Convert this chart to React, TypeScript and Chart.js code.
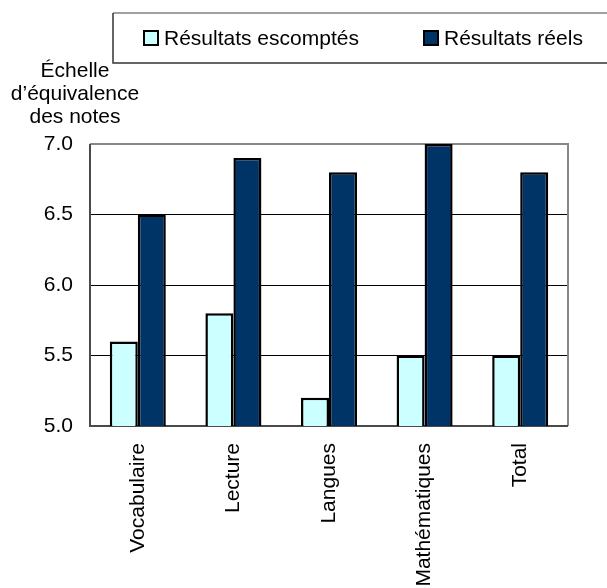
import React, { useEffect, useRef } from "react";
import { Chart, registerables } from "chart.js";

Chart.register(...registerables);

const categories = ["Vocabulaire", "Lecture", "Langues", "Mathématiques", "Total"];
const expected = [5.6, 5.8, 5.2, 5.5, 5.5];
const actual = [6.5, 6.9, 6.8, 7.0, 6.8];
const seriesNames = ["Résultats escomptés", "Résultats réels"];
const seriesColors = ["#CCFFFF", "#003366"];
const yTitleLines = ["Échelle", "d’équivalence", "des notes"];
const yMin = 5.0;
const yMax = 7.0;
const yStep = 0.5;

const FONT = "Arial, 'Liberation Sans', sans-serif";

export default function App() {
  const ref = useRef<HTMLCanvasElement | null>(null);

  useEffect(() => {
    const canvas = ref.current;
    if (!canvas) return;

    const framePlugin = {
      id: "frame",
      beforeDatasetsDraw(chart: any) {
        const { ctx, chartArea: a } = chart;
        ctx.save();
        ctx.lineWidth = 2;
        ctx.strokeStyle = "#888888";
        ctx.beginPath();
        ctx.moveTo(a.left, a.top);
        ctx.lineTo(a.right, a.top);
        ctx.lineTo(a.right, a.bottom);
        ctx.stroke();
        ctx.strokeStyle = "#4a4a4a";
        ctx.beginPath();
        ctx.moveTo(a.left, a.top);
        ctx.lineTo(a.left, a.bottom);
        ctx.lineTo(a.right, a.bottom);
        ctx.stroke();
        ctx.restore();
      },
    };

    const extrasPlugin = {
      id: "extras",
      afterDraw(chart: any) {
        const { ctx } = chart;
        ctx.save();
        // Legend box
        const bx = 113, by = 13, bw = 520, bh = 50;
        ctx.lineWidth = 1.5;
        ctx.strokeStyle = "#808080";
        ctx.beginPath();
        ctx.moveTo(bx, by);
        ctx.lineTo(bx + bw, by);
        ctx.stroke();
        ctx.strokeStyle = "#333333";
        ctx.beginPath();
        ctx.moveTo(bx, by);
        ctx.lineTo(bx, by + bh);
        ctx.lineTo(bx + bw, by + bh);
        ctx.stroke();

        const items = chart.data.datasets;
        const xs = [144, 424];
        ctx.font = `21px ${FONT}`;
        ctx.textBaseline = "middle";
        ctx.textAlign = "left";
        items.forEach((ds: any, i: number) => {
          const x = xs[i];
          ctx.fillStyle = ds.backgroundColor;
          ctx.fillRect(x, 31, 14, 14);
          ctx.lineWidth = 2;
          ctx.strokeStyle = "#000";
          ctx.strokeRect(x, 31, 14, 14);
          ctx.fillStyle = "#000";
          ctx.fillText(ds.label, x + 20, 39);
        });

        // Y axis title
        ctx.textAlign = "center";
        ctx.textBaseline = "alphabetic";
        yTitleLines.forEach((line, i) => {
          ctx.fillText(line, 75, 77 + i * 23);
        });
        ctx.restore();
      },
    };

    const chart = new Chart(canvas, {
      type: "bar",
      data: {
        labels: categories,
        datasets: [
          {
            label: seriesNames[0],
            data: expected,
            backgroundColor: seriesColors[0],
            borderColor: "#000000",
            borderWidth: 2.5,
            borderSkipped: false,
            categoryPercentage: 0.586,
            barPercentage: 1.0,
          },
          {
            label: seriesNames[1],
            data: actual,
            backgroundColor: seriesColors[1],
            borderColor: "#000000",
            borderWidth: 2.5,
            borderSkipped: false,
            categoryPercentage: 0.586,
            barPercentage: 1.0,
          },
        ],
      },
      options: {
        responsive: false,
        animation: false,
        layout: { padding: { top: 144, right: 39, left: 0, bottom: 0 } },
        plugins: {
          legend: { display: false },
          tooltip: { enabled: false },
          title: { display: false },
        },
        scales: {
          x: {
            grid: { display: false, drawTicks: false },
            border: { display: false },
            ticks: {
              autoSkip: false,
              minRotation: 90,
              maxRotation: 90,
              padding: 17,
              color: "#000",
              font: { family: FONT, size: 21 },
            },
            afterFit(scale: any) {
              scale.height = 162;
            },
          },
          y: {
            min: yMin,
            max: yMax,
            border: { display: false },
            grid: {
              drawTicks: false,
              lineWidth: 1,
              color: (c: any) =>
                c.tick && (c.tick.value === yMin || c.tick.value === yMax)
                  ? "rgba(0,0,0,0)"
                  : "#000000",
            },
            ticks: {
              stepSize: yStep,
              padding: 17,
              color: "#000",
              font: { family: FONT, size: 21 },
              callback: (v: any) => Number(v).toFixed(1),
            },
            afterFit(scale: any) {
              scale.width = 90;
            },
          },
        },
      },
      plugins: [framePlugin, extrasPlugin],
    });

    return () => chart.destroy();
  }, []);

  return (
    <div style={{ position: "fixed", left: 0, top: 0, width: 607, height: 588, overflow: "hidden", background: "#fff" }}>
      <canvas ref={ref} width={607} height={588} style={{ width: 607, height: 588, display: "block" }} />
    </div>
  );
}
